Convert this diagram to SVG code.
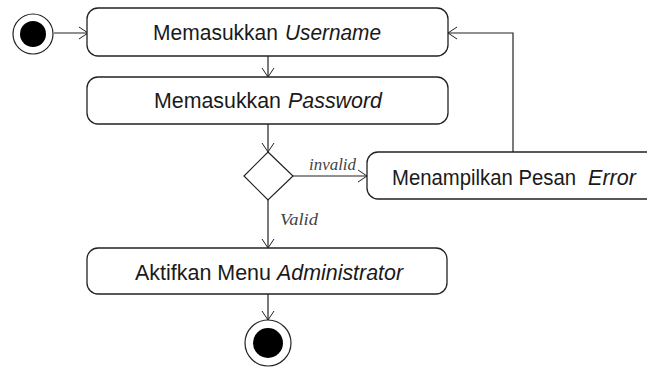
<svg xmlns="http://www.w3.org/2000/svg" width="647" height="367" viewBox="0 0 647 367">
<defs>
<marker id="open" markerWidth="12" markerHeight="14" refX="10" refY="7" orient="auto" markerUnits="userSpaceOnUse">
<path d="M1,1 L10,7 L1,13" fill="none" stroke="#222" stroke-width="1"/>
</marker>
<style>
.box{fill:#fff;stroke:#222;stroke-width:1.3}
.lbl{font-family:"Liberation Sans",Arial,sans-serif;font-size:22px;fill:#1a1a1a}
.it{font-style:italic}
.edge{fill:none;stroke:#222;stroke-width:1.2;marker-end:url(#open)}
.g{font-family:"Liberation Serif","Times New Roman",serif;font-style:italic;font-size:16px;fill:#444}
</style>
</defs>
<rect width="647" height="367" fill="#fff"/>
<g id="connectors">
<path class="edge" d="M54,33 L88,33"/>
<path class="edge" d="M268,56 L268,77"/>
<path class="edge" d="M268,124 L268,152"/>
<path class="edge" d="M293,176 L367,176"/>
<path class="edge" d="M513,152 L513,33 L448,33"/>
<path class="edge" d="M268,200 L268,248"/>
<path class="edge" d="M268,294 L268,320"/>
<text class="g" x="309" y="170" textLength="47" lengthAdjust="spacingAndGlyphs">invalid</text>
<text class="g" x="280" y="225" textLength="38" lengthAdjust="spacingAndGlyphs">Valid</text>
</g>
<g id="start">
<circle cx="33" cy="34" r="20" fill="#fff" stroke="#222" stroke-width="1.2"/>
<circle cx="33" cy="34" r="13" fill="#000"/>
</g>
<g id="username">
<rect class="box" x="87" y="8" width="361" height="48" rx="11"/>
<text class="lbl" x="153" y="39.5" textLength="125" lengthAdjust="spacingAndGlyphs">Memasukkan</text>
<text class="lbl it" x="285" y="39.5" textLength="96" lengthAdjust="spacingAndGlyphs">Username</text>
</g>
<g id="password">
<rect class="box" x="87" y="77" width="361" height="47" rx="11"/>
<text class="lbl" x="154" y="108" textLength="127" lengthAdjust="spacingAndGlyphs">Memasukkan</text>
<text class="lbl it" x="288" y="108" textLength="94" lengthAdjust="spacingAndGlyphs">Password</text>
</g>
<g id="decision">
<path d="M268,152 L293,176 L268,200 L244,176 Z" fill="#fff" stroke="#222" stroke-width="1.2"/>
</g>
<g id="error">
<rect class="box" x="367" y="152" width="295" height="47" rx="11"/>
<text class="lbl" x="392" y="185" textLength="184" lengthAdjust="spacingAndGlyphs">Menampilkan Pesan</text>
<text class="lbl it" x="588" y="185" textLength="48" lengthAdjust="spacingAndGlyphs">Error</text>
</g>
<g id="admin">
<rect class="box" x="87" y="248" width="360" height="46" rx="11"/>
<text class="lbl" x="135" y="279.5" textLength="136" lengthAdjust="spacingAndGlyphs">Aktifkan Menu</text>
<text class="lbl it" x="277" y="279.5" textLength="126" lengthAdjust="spacingAndGlyphs">Administrator</text>
</g>
<g id="end">
<circle cx="268" cy="343" r="23" fill="#fff" stroke="#222" stroke-width="1.2"/>
<circle cx="268" cy="343" r="15" fill="#000"/>
</g>
</svg>
